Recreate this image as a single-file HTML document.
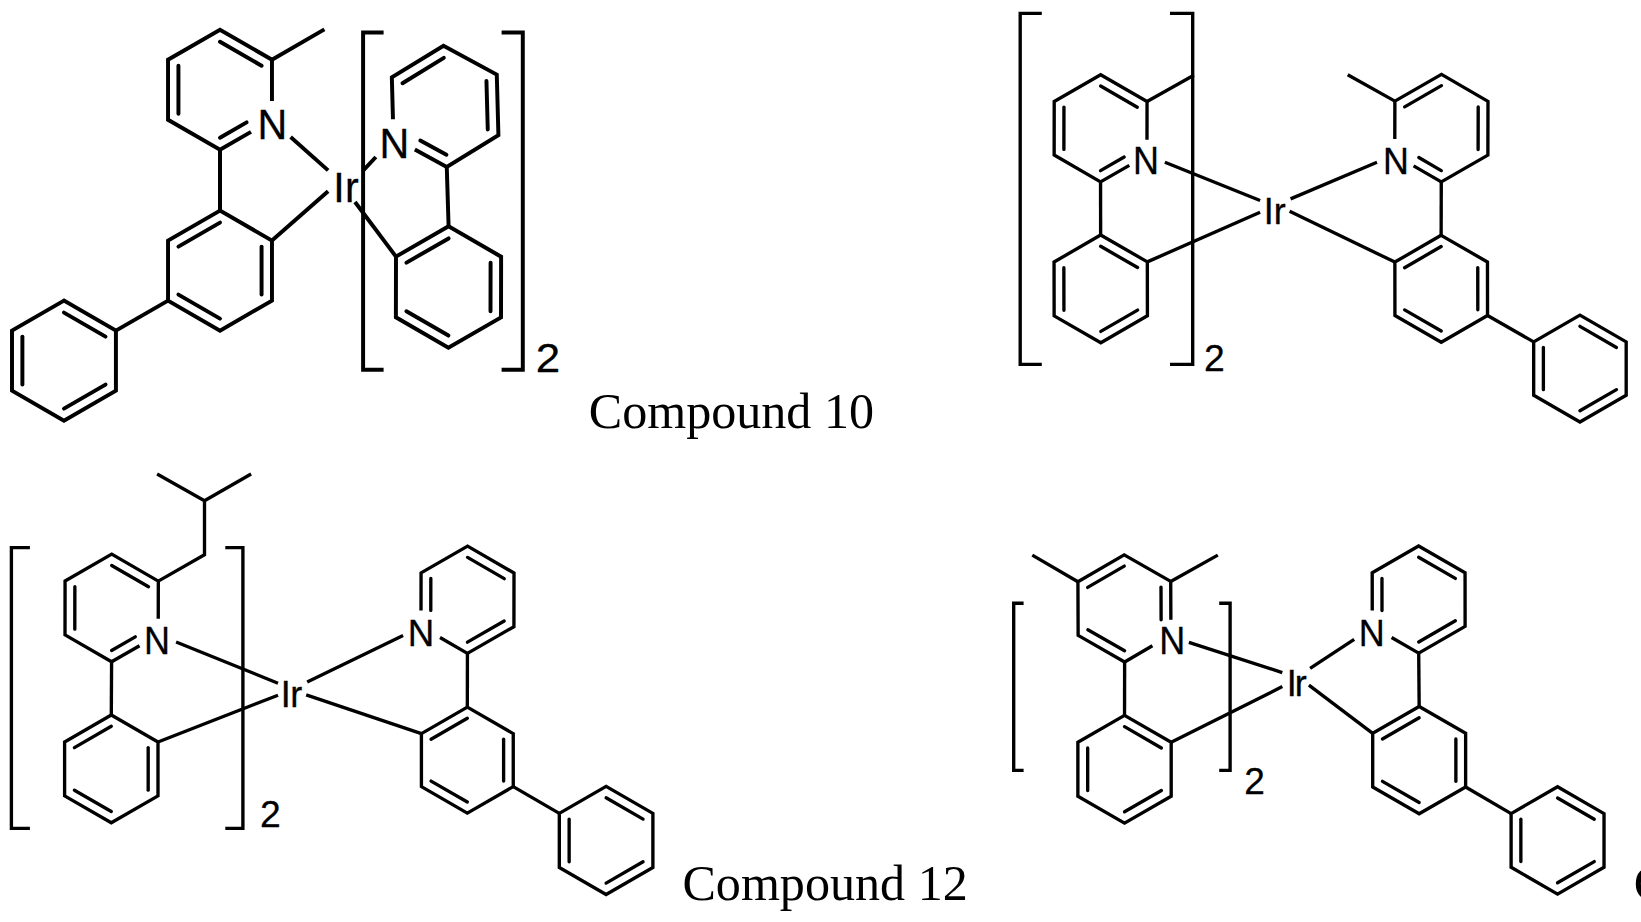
<!DOCTYPE html>
<html><head><meta charset="utf-8"><title>Compounds</title>
<style>
html,body{margin:0;padding:0;background:#fff;}
body{width:1641px;height:922px;overflow:hidden;}
svg{display:block;}
</style></head><body>
<svg width="1641" height="922" viewBox="0 0 1641 922">
<g fill="none" stroke="#000" stroke-linejoin="miter" stroke-miterlimit="4">
<path d="M271.96 101.00 L271.96 59.75 L220.00 29.75 L168.04 59.75 L168.04 119.75 L220.00 149.75 L251.00 131.85" stroke-width="3.95" stroke-linecap="butt"/>
<path d="M220.00 41.75 L261.57 65.75" stroke-width="3.95" stroke-linecap="round"/>
<path d="M178.43 65.75 L178.43 113.75" stroke-width="3.95" stroke-linecap="round"/>
<path d="M220.00 137.75 L246.61 122.39" stroke-width="3.95" stroke-linecap="round"/>
<path d="M271.96 59.75 L324.40 29.40" stroke-width="3.95" stroke-linecap="butt"/>
<path d="M220.00 149.75 L220.00 210.60" stroke-width="3.95" stroke-linecap="butt"/>
<path d="M220.00 210.60 L168.04 240.60 L168.04 300.60 L220.00 330.60 L271.96 300.60 L271.96 240.60 Z" stroke-width="3.95" stroke-linecap="butt"/>
<path d="M220.00 222.60 L178.43 246.60" stroke-width="3.95" stroke-linecap="round"/>
<path d="M261.57 246.60 L261.57 294.60" stroke-width="3.95" stroke-linecap="round"/>
<path d="M178.43 294.60 L220.00 318.60" stroke-width="3.95" stroke-linecap="round"/>
<path d="M168.04 300.60 L115.92 330.60" stroke-width="3.95" stroke-linecap="butt"/>
<path d="M63.96 300.60 L12.00 330.60 L12.00 390.60 L63.96 420.60 L115.92 390.60 L115.92 330.60 Z" stroke-width="3.95" stroke-linecap="butt"/>
<path d="M63.96 312.60 L105.53 336.60" stroke-width="3.95" stroke-linecap="round"/>
<path d="M22.39 336.60 L22.39 384.60" stroke-width="3.95" stroke-linecap="round"/>
<path d="M63.96 408.60 L105.53 384.60" stroke-width="3.95" stroke-linecap="round"/>
<path d="M290.60 137.00 L328.10 170.40" stroke-width="3.95" stroke-linecap="butt"/>
<path d="M271.96 240.60 L328.10 191.30" stroke-width="3.95" stroke-linecap="butt"/>
<path d="M363.30 170.40 L375.90 157.00" stroke-width="3.95" stroke-linecap="butt"/>
<path d="M355.00 202.00 L395.99 256.57" stroke-width="3.95" stroke-linecap="butt"/>
<path d="M392.97 119.22 L391.84 77.42 L443.50 45.71 L496.78 74.60 L498.41 135.18 L446.76 166.89 L414.86 149.60" stroke-width="3.95" stroke-linecap="butt"/>
<path d="M443.82 57.83 L402.50 83.20" stroke-width="3.95" stroke-linecap="round"/>
<path d="M486.45 80.94 L487.76 129.41" stroke-width="3.95" stroke-linecap="round"/>
<path d="M446.43 154.77 L420.28 140.60" stroke-width="3.95" stroke-linecap="round"/>
<path d="M446.76 166.89 L448.60 226.31" stroke-width="3.95" stroke-linecap="butt"/>
<path d="M448.60 226.31 L395.99 256.57 L395.89 317.26 L448.40 347.69 L501.01 317.43 L501.11 256.74 Z" stroke-width="3.95" stroke-linecap="butt"/>
<path d="M448.58 238.44 L406.49 262.65" stroke-width="3.95" stroke-linecap="round"/>
<path d="M490.59 262.79 L490.51 311.35" stroke-width="3.95" stroke-linecap="round"/>
<path d="M406.41 311.21 L448.42 335.56" stroke-width="3.95" stroke-linecap="round"/>
<path d="M383.60 32.40 L363.10 32.40 L363.10 369.70 L383.60 369.70" stroke-width="3.95" stroke-linecap="butt"/>
<path d="M501.60 32.40 L522.80 32.40 L522.80 369.70 L501.60 369.70" stroke-width="3.95" stroke-linecap="butt"/>
<path d="M1147.00 139.70 L1147.05 101.56 L1100.66 74.71 L1054.21 101.46 L1054.15 155.06 L1100.54 181.91 L1129.31 165.34" stroke-width="3.35" stroke-linecap="butt"/>
<path d="M1100.64 85.97 L1137.29 107.18" stroke-width="3.35" stroke-linecap="round"/>
<path d="M1063.95 107.10 L1063.90 149.44" stroke-width="3.35" stroke-linecap="round"/>
<path d="M1100.55 170.65 L1124.16 157.06" stroke-width="3.35" stroke-linecap="round"/>
<path d="M1147.05 101.56 L1193.80 75.20" stroke-width="3.35" stroke-linecap="butt"/>
<path d="M1100.54 181.91 L1100.64 235.01" stroke-width="3.35" stroke-linecap="butt"/>
<path d="M1100.64 235.01 L1054.05 262.02 L1054.14 315.87 L1100.82 342.72 L1147.42 315.71 L1147.33 261.86 Z" stroke-width="3.35" stroke-linecap="butt"/>
<path d="M1100.66 246.32 L1137.54 267.53" stroke-width="3.35" stroke-linecap="round"/>
<path d="M1063.85 267.66 L1063.93 310.20" stroke-width="3.35" stroke-linecap="round"/>
<path d="M1100.81 331.41 L1137.61 310.08" stroke-width="3.35" stroke-linecap="round"/>
<path d="M1164.90 162.20 L1260.10 200.50" stroke-width="3.35" stroke-linecap="butt"/>
<path d="M1147.33 261.86 L1260.10 212.30" stroke-width="3.35" stroke-linecap="butt"/>
<path d="M1290.60 198.90 L1377.00 162.30" stroke-width="3.35" stroke-linecap="butt"/>
<path d="M1289.60 211.20 L1394.87 262.09" stroke-width="3.35" stroke-linecap="butt"/>
<path d="M1394.80 139.00 L1394.88 101.16 L1441.49 74.38 L1487.99 101.36 L1487.88 155.11 L1441.27 181.89 L1413.58 165.83" stroke-width="3.35" stroke-linecap="butt"/>
<path d="M1441.47 85.67 L1404.65 106.83" stroke-width="3.35" stroke-linecap="round"/>
<path d="M1478.20 106.98 L1478.11 149.45" stroke-width="3.35" stroke-linecap="round"/>
<path d="M1441.29 170.60 L1418.82 157.57" stroke-width="3.35" stroke-linecap="round"/>
<path d="M1394.88 101.16 L1347.70 74.70" stroke-width="3.35" stroke-linecap="butt"/>
<path d="M1441.27 181.89 L1441.14 235.31" stroke-width="3.35" stroke-linecap="butt"/>
<path d="M1441.14 235.31 L1394.87 262.09 L1394.93 315.55 L1441.26 342.23 L1487.53 315.45 L1487.47 261.99 Z" stroke-width="3.35" stroke-linecap="butt"/>
<path d="M1441.15 246.53 L1404.60 267.69" stroke-width="3.35" stroke-linecap="round"/>
<path d="M1477.75 267.61 L1477.80 309.84" stroke-width="3.35" stroke-linecap="round"/>
<path d="M1404.65 309.92 L1441.25 331.00" stroke-width="3.35" stroke-linecap="round"/>
<path d="M1487.53 315.45 L1533.68 341.86" stroke-width="3.35" stroke-linecap="butt"/>
<path d="M1579.93 315.16 L1533.68 341.86 L1533.68 395.27 L1579.93 421.98 L1626.19 395.27 L1626.19 341.86 Z" stroke-width="3.35" stroke-linecap="butt"/>
<path d="M1579.93 326.37 L1616.47 347.47" stroke-width="3.35" stroke-linecap="round"/>
<path d="M1543.39 347.47 L1543.39 389.66" stroke-width="3.35" stroke-linecap="round"/>
<path d="M1579.93 410.76 L1616.47 389.66" stroke-width="3.35" stroke-linecap="round"/>
<path d="M1041.80 13.40 L1020.20 13.40 L1020.20 364.40 L1041.80 364.40" stroke-width="3.35" stroke-linecap="butt"/>
<path d="M1170.00 13.40 L1192.70 13.40 L1192.70 364.40 L1170.00 364.40" stroke-width="3.35" stroke-linecap="butt"/>
<path d="M158.26 618.70 L158.31 581.12 L111.72 554.15 L65.07 581.00 L65.01 634.83 L111.59 661.80 L139.55 645.71" stroke-width="3.35" stroke-linecap="butt"/>
<path d="M111.71 565.45 L148.51 586.76" stroke-width="3.35" stroke-linecap="round"/>
<path d="M74.86 586.67 L74.80 629.19" stroke-width="3.35" stroke-linecap="round"/>
<path d="M111.60 650.50 L135.30 636.86" stroke-width="3.35" stroke-linecap="round"/>
<path d="M158.31 581.12 L204.50 554.80 L204.50 500.80 L157.10 474.00" stroke-width="3.35" stroke-linecap="butt"/>
<path d="M204.50 500.80 L251.10 474.00" stroke-width="3.35" stroke-linecap="butt"/>
<path d="M111.59 661.80 L111.30 714.99" stroke-width="3.35" stroke-linecap="butt"/>
<path d="M111.30 714.99 L64.61 741.95 L64.61 795.85 L111.30 822.81 L157.99 795.85 L157.99 741.95 Z" stroke-width="3.35" stroke-linecap="butt"/>
<path d="M111.30 726.31 L74.42 747.61" stroke-width="3.35" stroke-linecap="round"/>
<path d="M148.18 747.61 L148.18 790.19" stroke-width="3.35" stroke-linecap="round"/>
<path d="M74.42 790.19 L111.30 811.49" stroke-width="3.35" stroke-linecap="round"/>
<path d="M176.10 642.00 L278.00 683.20" stroke-width="3.35" stroke-linecap="butt"/>
<path d="M157.99 741.95 L278.00 695.20" stroke-width="3.35" stroke-linecap="butt"/>
<path d="M307.20 682.10 L403.10 635.50" stroke-width="3.35" stroke-linecap="butt"/>
<path d="M306.20 694.90 L421.42 733.62" stroke-width="3.35" stroke-linecap="butt"/>
<path d="M421.02 610.40 L421.07 572.89 L467.57 546.12 L514.00 573.01 L513.93 626.66 L467.43 653.43 L440.00 637.54" stroke-width="3.35" stroke-linecap="butt"/>
<path d="M467.55 557.39 L504.24 578.63" stroke-width="3.35" stroke-linecap="round"/>
<path d="M467.45 642.16 L504.18 621.01" stroke-width="3.35" stroke-linecap="round"/>
<path d="M430.82 578.53 L430.78 610.40" stroke-width="3.35" stroke-linecap="round"/>
<path d="M467.43 653.43 L467.33 707.12" stroke-width="3.35" stroke-linecap="butt"/>
<path d="M467.33 707.12 L421.42 733.62 L421.42 786.64 L467.33 813.15 L513.25 786.64 L513.25 733.62 Z" stroke-width="3.35" stroke-linecap="butt"/>
<path d="M467.33 718.25 L431.06 739.19" stroke-width="3.35" stroke-linecap="round"/>
<path d="M503.61 739.19 L503.61 781.08" stroke-width="3.35" stroke-linecap="round"/>
<path d="M431.06 781.08 L467.33 802.02" stroke-width="3.35" stroke-linecap="round"/>
<path d="M513.25 786.64 L559.31 813.42" stroke-width="3.35" stroke-linecap="butt"/>
<path d="M606.10 786.41 L559.31 813.42 L559.31 867.44 L606.10 894.46 L652.89 867.44 L652.89 813.42 Z" stroke-width="3.35" stroke-linecap="butt"/>
<path d="M606.10 797.75 L643.06 819.09" stroke-width="3.35" stroke-linecap="round"/>
<path d="M569.14 819.09 L569.14 861.77" stroke-width="3.35" stroke-linecap="round"/>
<path d="M606.10 883.11 L643.06 861.77" stroke-width="3.35" stroke-linecap="round"/>
<path d="M29.90 547.60 L11.40 547.60 L11.40 828.30 L29.90 828.30" stroke-width="3.35" stroke-linecap="butt"/>
<path d="M225.30 547.60 L242.90 547.60 L242.90 828.30 L225.30 828.30" stroke-width="3.35" stroke-linecap="butt"/>
<path d="M1170.87 619.70 L1170.71 581.42 L1124.20 554.82 L1077.92 581.80 L1078.13 635.38 L1124.64 661.98 L1152.40 645.80" stroke-width="3.35" stroke-linecap="butt"/>
<path d="M1124.25 566.08 L1087.68 587.39" stroke-width="3.35" stroke-linecap="round"/>
<path d="M1087.85 629.71 L1124.59 650.72" stroke-width="3.35" stroke-linecap="round"/>
<path d="M1160.99 587.09 L1161.12 619.70" stroke-width="3.35" stroke-linecap="round"/>
<path d="M1077.92 581.80 L1032.30 555.10" stroke-width="3.35" stroke-linecap="butt"/>
<path d="M1170.71 581.42 L1217.80 555.10" stroke-width="3.35" stroke-linecap="butt"/>
<path d="M1124.64 661.98 L1124.53 715.36" stroke-width="3.35" stroke-linecap="butt"/>
<path d="M1124.53 715.36 L1077.88 742.30 L1077.88 796.17 L1124.53 823.11 L1171.19 796.17 L1171.19 742.30 Z" stroke-width="3.35" stroke-linecap="butt"/>
<path d="M1124.53 726.67 L1161.39 747.95" stroke-width="3.35" stroke-linecap="round"/>
<path d="M1087.68 747.95 L1087.68 790.51" stroke-width="3.35" stroke-linecap="round"/>
<path d="M1124.53 811.79 L1161.39 790.51" stroke-width="3.35" stroke-linecap="round"/>
<path d="M1188.90 642.30 L1282.30 672.60" stroke-width="3.35" stroke-linecap="butt"/>
<path d="M1171.19 742.30 L1282.30 686.60" stroke-width="3.35" stroke-linecap="butt"/>
<path d="M1310.10 668.40 L1354.20 639.30" stroke-width="3.35" stroke-linecap="butt"/>
<path d="M1308.90 685.10 L1372.70 733.31" stroke-width="3.35" stroke-linecap="butt"/>
<path d="M1372.25 610.60 L1372.21 572.83 L1418.61 545.98 L1465.06 572.75 L1465.11 626.35 L1418.71 653.19 L1391.60 637.57" stroke-width="3.35" stroke-linecap="butt"/>
<path d="M1418.62 557.24 L1455.32 578.38" stroke-width="3.35" stroke-linecap="round"/>
<path d="M1418.70 641.94 L1455.35 620.73" stroke-width="3.35" stroke-linecap="round"/>
<path d="M1381.97 578.45 L1382.00 610.60" stroke-width="3.35" stroke-linecap="round"/>
<path d="M1418.71 653.19 L1419.17 706.48" stroke-width="3.35" stroke-linecap="butt"/>
<path d="M1419.17 706.48 L1372.70 733.31 L1372.70 786.96 L1419.17 813.79 L1465.63 786.96 L1465.63 733.31 Z" stroke-width="3.35" stroke-linecap="butt"/>
<path d="M1419.17 717.75 L1382.46 738.94" stroke-width="3.35" stroke-linecap="round"/>
<path d="M1455.87 738.94 L1455.87 781.33" stroke-width="3.35" stroke-linecap="round"/>
<path d="M1382.46 781.33 L1419.17 802.52" stroke-width="3.35" stroke-linecap="round"/>
<path d="M1465.63 786.96 L1511.11 813.61" stroke-width="3.35" stroke-linecap="butt"/>
<path d="M1557.57 786.79 L1511.11 813.61 L1511.11 867.26 L1557.57 894.08 L1604.03 867.26 L1604.03 813.61 Z" stroke-width="3.35" stroke-linecap="butt"/>
<path d="M1557.57 798.05 L1594.27 819.24" stroke-width="3.35" stroke-linecap="round"/>
<path d="M1520.86 819.24 L1520.86 861.62" stroke-width="3.35" stroke-linecap="round"/>
<path d="M1557.57 882.82 L1594.27 861.62" stroke-width="3.35" stroke-linecap="round"/>
<path d="M1023.60 603.20 L1013.70 603.20 L1013.70 770.40 L1023.60 770.40" stroke-width="3.35" stroke-linecap="butt"/>
<path d="M1219.20 603.20 L1230.10 603.20 L1230.10 770.40 L1219.20 770.40" stroke-width="3.35" stroke-linecap="butt"/>
</g>
<g fill="#000">
<text transform="translate(257.62 138.80) scale(1 1.013)" style="font-family:&quot;Liberation Sans&quot;,sans-serif;font-size:41.17px;stroke:#000;stroke-width:0.30px">N</text>
<text transform="translate(379.62 158.10) scale(1 1.027)" style="font-family:&quot;Liberation Sans&quot;,sans-serif;font-size:41.17px;stroke:#000;stroke-width:0.30px">N</text>
<text transform="translate(333.30 202.00) scale(1 1.023)" style="font-family:&quot;Liberation Sans&quot;,sans-serif;font-size:41.20px;stroke:#000;stroke-width:0.30px">I</text>
<text transform="translate(345.06 202.00) scale(1 1.023)" style="font-family:&quot;Liberation Sans&quot;,sans-serif;font-size:41.20px;stroke:#000;stroke-width:0.30px">r</text>
<text transform="translate(535.79 371.80) scale(1 0.946)" style="font-family:&quot;Liberation Sans&quot;,sans-serif;font-size:43.90px;stroke:#000;stroke-width:0.30px">2</text>
<text transform="translate(588.75 428.00) scale(1 1.000)" style="font-family:&quot;Liberation Serif&quot;,serif;font-size:50.10px">Compound 10</text>
<text transform="translate(1133.05 174.00) scale(1 1.058)" style="font-family:&quot;Liberation Sans&quot;,sans-serif;font-size:35.98px;stroke:#000;stroke-width:0.30px">N</text>
<text transform="translate(1382.96 173.90) scale(1 1.056)" style="font-family:&quot;Liberation Sans&quot;,sans-serif;font-size:35.80px;stroke:#000;stroke-width:0.30px">N</text>
<text transform="translate(1263.78 223.80) scale(1 1.046)" style="font-family:&quot;Liberation Sans&quot;,sans-serif;font-size:36.00px;stroke:#000;stroke-width:0.30px">I</text>
<text transform="translate(1273.71 223.80) scale(1 1.046)" style="font-family:&quot;Liberation Sans&quot;,sans-serif;font-size:36.00px;stroke:#000;stroke-width:0.30px">r</text>
<text transform="translate(1204.12 370.80) scale(1 0.994)" style="font-family:&quot;Liberation Sans&quot;,sans-serif;font-size:37.32px;stroke:#000;stroke-width:0.30px">2</text>
<text transform="translate(144.05 654.00) scale(1 1.058)" style="font-family:&quot;Liberation Sans&quot;,sans-serif;font-size:35.98px;stroke:#000;stroke-width:0.30px">N</text>
<text transform="translate(407.79 645.80) scale(1 1.018)" style="font-family:&quot;Liberation Sans&quot;,sans-serif;font-size:36.70px;stroke:#000;stroke-width:0.30px">N</text>
<text transform="translate(280.78 706.90) scale(1 1.038)" style="font-family:&quot;Liberation Sans&quot;,sans-serif;font-size:36.00px;stroke:#000;stroke-width:0.30px">I</text>
<text transform="translate(290.31 706.90) scale(1 1.038)" style="font-family:&quot;Liberation Sans&quot;,sans-serif;font-size:36.00px;stroke:#000;stroke-width:0.30px">r</text>
<text transform="translate(260.12 826.70) scale(1 0.990)" style="font-family:&quot;Liberation Sans&quot;,sans-serif;font-size:37.32px;stroke:#000;stroke-width:0.30px">2</text>
<text transform="translate(682.45 900.30) scale(1 1.000)" style="font-family:&quot;Liberation Serif&quot;,serif;font-size:50.10px">Compound 12</text>
<text transform="translate(1159.25 654.20) scale(1 1.058)" style="font-family:&quot;Liberation Sans&quot;,sans-serif;font-size:35.98px;stroke:#000;stroke-width:0.30px">N</text>
<text transform="translate(1358.85 646.30) scale(1 1.046)" style="font-family:&quot;Liberation Sans&quot;,sans-serif;font-size:35.98px;stroke:#000;stroke-width:0.30px">N</text>
<text transform="translate(1286.68 695.90) scale(1 1.046)" style="font-family:&quot;Liberation Sans&quot;,sans-serif;font-size:36.00px;stroke:#000;stroke-width:0.30px">I</text>
<text transform="translate(1294.71 695.90) scale(1 1.046)" style="font-family:&quot;Liberation Sans&quot;,sans-serif;font-size:36.00px;stroke:#000;stroke-width:0.30px">r</text>
<text transform="translate(1244.23 793.80) scale(1 1.004)" style="font-family:&quot;Liberation Sans&quot;,sans-serif;font-size:37.10px;stroke:#000;stroke-width:0.30px">2</text>
<text transform="translate(1633.75 900.30) scale(1 1.000)" style="font-family:&quot;Liberation Serif&quot;,serif;font-size:50.10px">C</text>
</g>
</svg>
</body></html>
